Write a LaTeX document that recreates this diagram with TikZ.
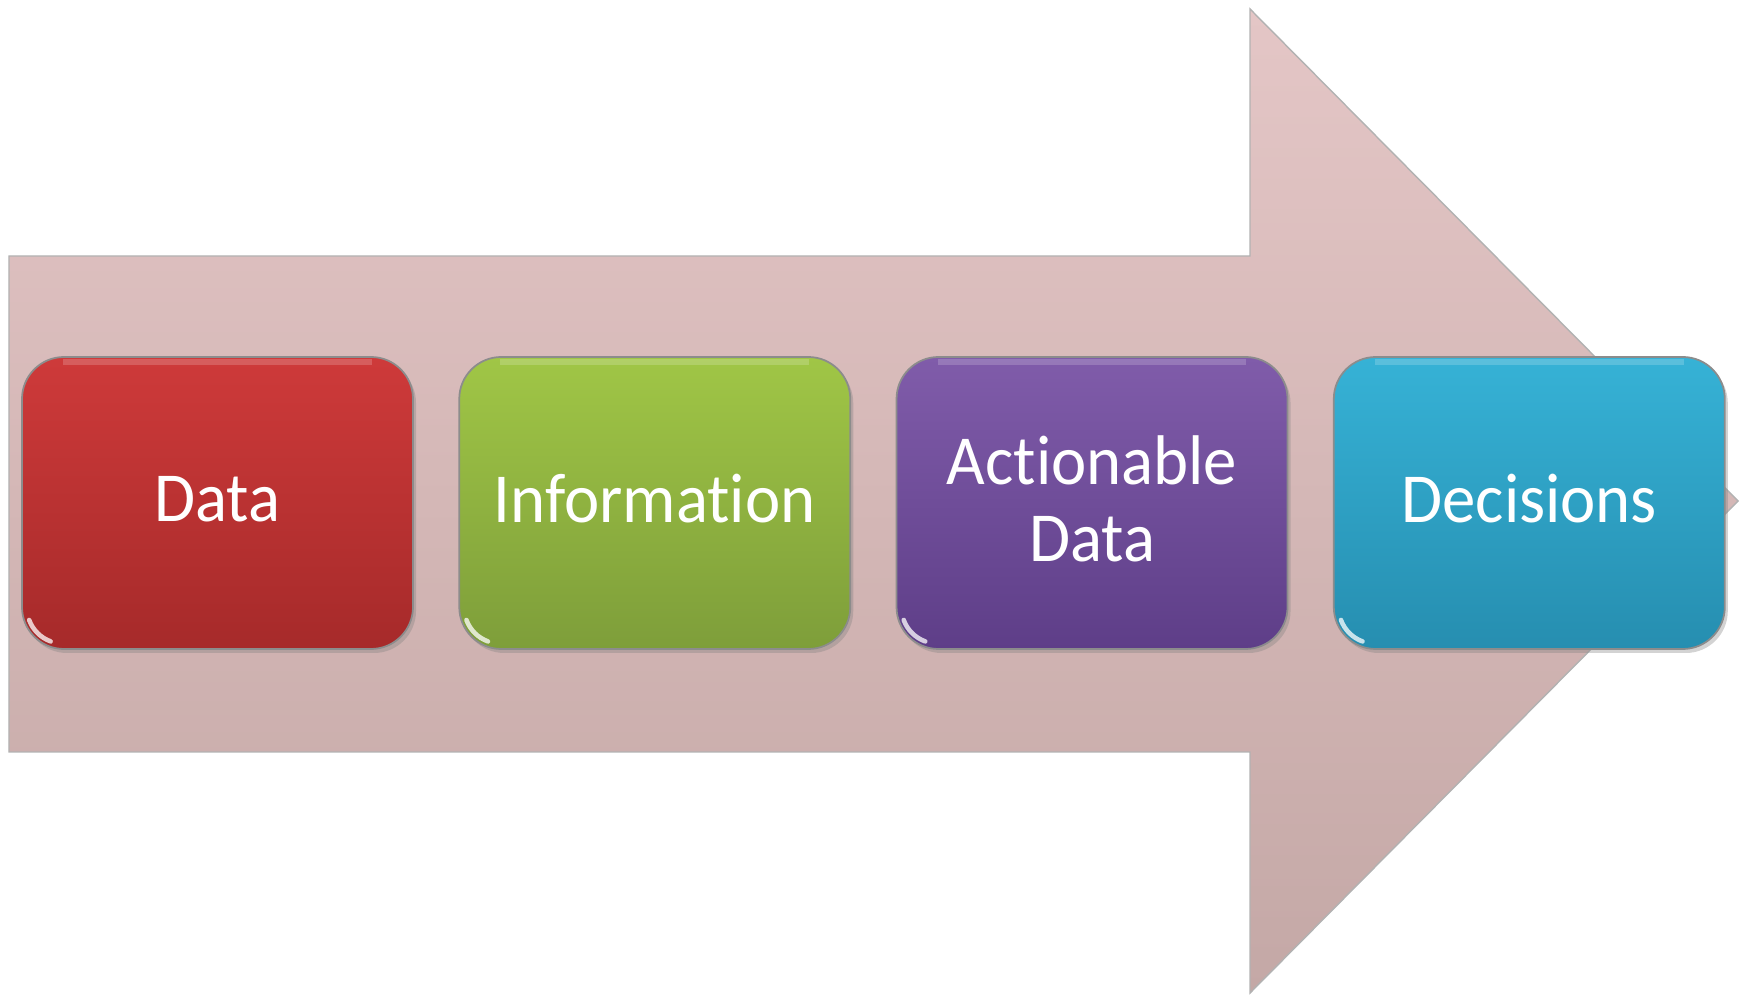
\documentclass[tikz,border=0pt]{standalone}
\usepackage{fontspec}
\setmainfont{Carlito}[Ligatures={NoCommon}, FakeStretch=0.95]
\usetikzlibrary{positioning, shadows}
\definecolor{arrowtop}{RGB}{228,198,198}
\definecolor{arrowbottom}{RGB}{196,168,166}
\definecolor{dataredtop}{RGB}{206,58,58}
\definecolor{dataredbot}{RGB}{166,42,42}
\definecolor{infogreentop}{RGB}{160,198,70}
\definecolor{infogreenbot}{RGB}{126,158,58}
\definecolor{actpurpletop}{RGB}{128,92,170}
\definecolor{actpurplebot}{RGB}{94,62,136}
\definecolor{decbluetop}{RGB}{54,178,214}
\definecolor{decbluebot}{RGB}{38,142,176}

\begin{document}
\begin{tikzpicture}[font=\fontsize{20}{22}\selectfont,
    stagebox/.style={rounded corners=0.42cm, minimum width=3.91cm, minimum height=2.92cm,
      text=white, align=center, text depth=0.09cm, draw=black!45, line width=0.5pt,
      drop shadow={opacity=0.35, shadow xshift=0.03cm, shadow yshift=-0.04cm}}]
	\useasboundingbox (0,0) rectangle (17.47,9.96);
	% big arrow behind the stages
	\shade[top color=arrowtop, bottom color=arrowbottom, draw=black!30, line width=0.4pt]
	  (0.09,7.40) -- (12.50,7.40) -- (12.50,9.87) -- (17.38,4.95) -- (12.50,0.03)
	  -- (12.50,2.44) -- (0.09,2.44) -- cycle;
	\node[stagebox, top color=dataredtop, bottom color=dataredbot] (data) at (2.175,4.93) {Data};
	\node[stagebox, top color=infogreentop, bottom color=infogreenbot, right=0.445cm of data] (info) {Information};
	\node[stagebox, top color=actpurpletop, bottom color=actpurplebot, right=0.445cm of info] (actdata) {Actionable\\Data};
	\node[stagebox, top color=decbluetop, bottom color=decbluebot, right=0.445cm of actdata] (decide) {Decisions};
	% glossy highlights
	\foreach \n in {data,info,actdata,decide}{
	  \draw[white, opacity=0.18, line width=1.5pt] ([xshift=0.42cm, yshift=-0.06cm]\n.north west) -- ([xshift=-0.42cm, yshift=-0.06cm]\n.north east);
	  \draw[white, opacity=0.75, line width=1.3pt, line cap=round] ([xshift=0.08cm, yshift=0.30cm]\n.south west) arc[start angle=200, end angle=250, radius=0.36cm];
	}
\end{tikzpicture}
\end{document}
